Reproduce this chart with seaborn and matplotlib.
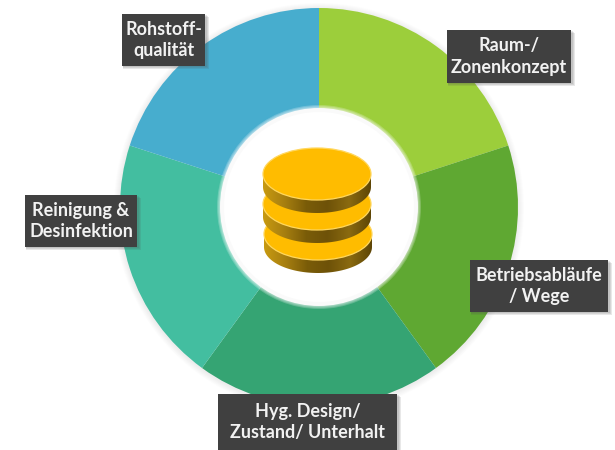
import numpy as np
import seaborn as sns
import matplotlib
matplotlib.use('Agg')
import matplotlib.pyplot as plt
from matplotlib.colors import LinearSegmentedColormap
from matplotlib.patches import Circle, Ellipse, PathPatch, Rectangle
from matplotlib.path import Path

# Segmente im Uhrzeigersinn, alle gleich gross
bereiche = ['Raum-/\nZonenkonzept', 'Betriebsabläufe\n/ Wege', 'Hyg. Design/\nZustand/ Unterhalt',
            'Reinigung &\nDesinfektion', 'Rohstoff-\nqualität']
anteile = [20, 20, 20, 20, 20]
farben = ['#9CCE3B', '#5FA832', '#35A473', '#43BEA0', '#47ADCE']

# Boxen in Pixeln: links, oben, rechts, unten
boxen = [(447, 30, 571, 83), (470, 260, 608, 312), (218, 394, 397, 450), (25, 195, 137, 247), (122, 14, 205, 66)]

HOEHE = 450
MX, MY = 319, HOEHE - 207
R_AUSSEN, R_INNEN = 199, 99

sns.set_theme(style='white')
plt.rcParams['font.family'] = ['Lato', 'DejaVu Sans']

fig = plt.figure(figsize=(6.15, 4.5), dpi=100)
ax = fig.add_axes([0, 0, 1, 1])

# weicher Schatten um den Ring
for i in range(6, 0, -1):
    ax.add_patch(Circle((MX, MY - 1), R_AUSSEN + i, color='#808080', alpha=0.02, lw=0, zorder=1))

ax.pie(anteile, colors=farben, startangle=90, counterclock=False, radius=R_AUSSEN, center=(MX, MY),
       wedgeprops={'linewidth': 0, 'zorder': 2})

# Loch in der Mitte mit leichtem Rand
for i in range(3, 0, -1):
    ax.add_patch(Circle((MX, MY), R_INNEN + i, color='white', alpha=0.22, lw=0, zorder=3))
ax.add_patch(Circle((MX, MY), R_INNEN, color='#FAFAFA', lw=0, zorder=3))
ax.add_patch(Circle((MX, MY), R_INNEN - 4, color='white', lw=0, zorder=3))

# Münzstapel, von unten nach oben
seite = LinearSegmentedColormap.from_list('seite', ['#C89A10', '#A67E10', '#7A5C08', '#6E5208', '#8A6A10', '#5E4606'])
verlauf = np.linspace(0, 1, 128).reshape(1, -1)
t = np.linspace(np.pi, 2 * np.pi, 80)

for cx, cy, breite, hoehe, dicke in [(318, 234, 108, 52, 13), (317, 204, 108, 52, 13), (317, 174, 108, 52, 13)]:
    y = HOEHE - cy
    unten_x = cx + breite / 2 * np.cos(t)
    unten_y = y - dicke + hoehe / 2 * np.sin(t)
    pts = np.vstack([[cx - breite / 2, y], np.column_stack([unten_x, unten_y]), [cx + breite / 2, y]])
    clip = PathPatch(Path(pts), transform=ax.transData, fc='none', ec='none')
    ax.add_patch(clip)
    bild = ax.imshow(verlauf, cmap=seite, extent=(cx - breite / 2, cx + breite / 2, y - hoehe, y),
                     aspect='auto', zorder=4)
    bild.set_clip_path(clip)
    ax.add_patch(Ellipse((cx, y), breite, hoehe, fc='#FFBC00', ec='#FFD75E', lw=0.9, zorder=4))

# Beschriftungen
for text, (x0, y0, x1, y1) in zip(bereiche, boxen):
    for i in range(3, 0, -1):
        ax.add_patch(Rectangle((x0 + 1, HOEHE - y1 - i), x1 - x0 + i, y1 - y0, color='#505050', alpha=0.13,
                               lw=0, zorder=5))
    ax.add_patch(Rectangle((x0, HOEHE - y1), x1 - x0, y1 - y0, color='#404040', lw=0, zorder=6))
    ax.text((x0 + x1) / 2, HOEHE - (y0 + y1) / 2, text, color='#F2F2F2', fontsize=13, fontweight='bold',
            ha='center', va='center', linespacing=1.32, zorder=7)

ax.set_xlim(0, 615)
ax.set_ylim(0, HOEHE)
ax.set_aspect('auto')
ax.axis('off')

plt.savefig('out.png', dpi=100)
